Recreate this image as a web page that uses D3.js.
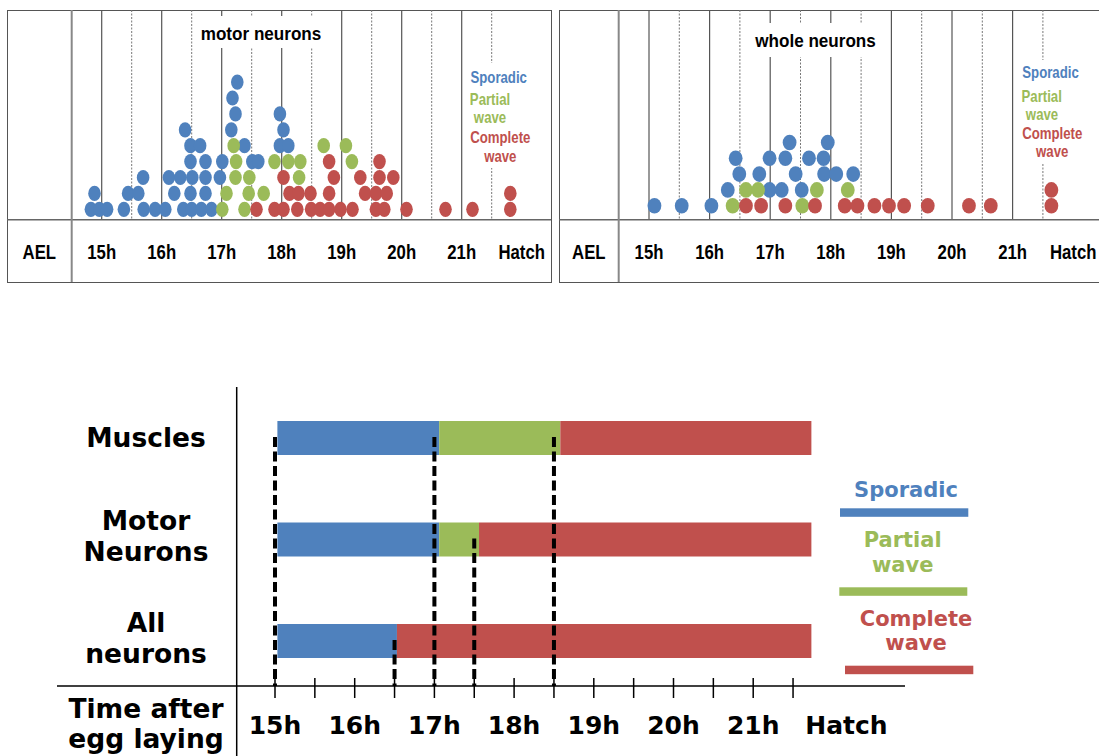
<!DOCTYPE html>
<html>
<head>
<meta charset="utf-8">
<script src="https://cdn.jsdelivr.net/npm/d3@7"></script>
<style>
  body { margin: 0; background: #fff; }
  svg { display: block; }
</style>
</head>
<body>
<div id="chart"></div>
<script>
// phases and colours
const phases = ["Sporadic", "Partial wave", "Complete wave"];
const phaseColors = ["#4F81BD", "#9BBB59", "#C0504D"];
const legendLines = [["Sporadic"], ["Partial", "wave"], ["Complete", "wave"]];

// top panels: one dot per embryo, [hours AEL, stack row]
const motorSporadic = [
  [14.82,0],[14.96,0],[15.09,0],[15.37,0],[15.70,0],[15.89,0],[16.06,0],[16.36,0],[16.50,0],[16.66,0],[16.83,0],
  [14.88,1],[15.44,1],[15.61,1],[16.21,1],[16.48,1],[16.73,1],
  [15.69,2],[16.12,2],[16.31,2],[16.51,2],[16.73,2],[16.97,2],
  [16.48,3],[16.73,3],[17.01,3],[17.51,3],[17.61,3],
  [16.48,4],[16.64,4],[17.38,4],[17.97,4],[18.11,4],
  [16.39,5],[17.16,5],[18.03,5],
  [17.23,6],[17.97,6],
  [17.18,7],
  [17.26,8]
];
const motorPartial = [
  [17.01,0],[17.38,0],
  [17.08,1],[17.45,1],[17.70,1],
  [17.23,2],[17.46,2],[18.29,2],
  [17.24,3],[17.88,3],[18.11,3],[18.31,3],[19.17,3],
  [17.20,4],[18.70,4],[19.07,4]
];
const motorComplete = [
  [17.58,0],[17.88,0],[18.03,0],[18.26,0],[18.49,0],[18.64,0],[18.79,0],[18.98,0],[19.18,0],
  [19.57,0],[19.71,0],[20.08,0],[20.73,0],[21.18,0],[21.81,0],
  [18.13,1],[18.28,1],[18.48,1],[18.79,1],[19.39,1],[19.57,1],[19.75,1],[21.81,1],
  [18.03,2],[18.87,2],[19.31,2],[19.63,2],[19.86,2],
  [18.79,3],[19.63,3]
];
const wholeSporadic = [
  [15.09,0],[15.54,0],[16.03,0],
  [16.30,1],[16.99,1],[17.19,1],[17.52,1],
  [16.49,2],[16.82,2],[17.42,2],[17.89,2],[18.09,2],[18.37,2],
  [16.43,3],[16.99,3],[17.25,3],[17.64,3],[17.88,3],
  [17.32,4],[17.95,4]
];
const wholePartial = [
  [16.38,0],[17.53,0],
  [16.60,1],[16.80,1],[17.77,1],[18.28,1]
];
const wholeComplete = [
  [16.60,0],[16.85,0],[17.25,0],[17.74,0],[18.23,0],[18.44,0],[18.72,0],[18.96,0],[19.21,0],
  [19.60,0],[20.28,0],[20.64,0],[21.64,0],
  [21.64,1]
];
const topHours = [15, 16, 17, 18, 19, 20, 21, 22];
const topHourLabels = ["15h", "16h", "17h", "18h", "19h", "20h", "21h", "Hatch"];

// bottom summary chart
const barRows = ["Muscles", "Motor Neurons", "All neurons"];
const barRowLines = [["Muscles"], ["Motor", "Neurons"], ["All", "neurons"]];
const sporadicStart = [15.03, 15.03, 15.03];
const partialStart = [17.06, 17.06, 16.53];
const completeStart = [18.58, 17.56, 16.53];
const hatchEnd = [21.73, 21.73, 21.73];
const transitionTimes = [15.0, 17.0, 18.5, 17.5, 16.5];
const transitionRows = ["Muscles", "Muscles", "Muscles", "Motor Neurons", "All neurons"];
const bottomTicks = d3.range(15, 21.51, 0.5);
const bottomLabelPos = [15, 16, 17, 18, 19, 20, 21, 22.17];
const bottomLabels = ["15h", "16h", "17h", "18h", "19h", "20h", "21h", "Hatch"];

const svg = d3.select("#chart").append("svg")
  .attr("width", 1099)
  .attr("height", 756);

const topFont = "'Liberation Sans', Arial, sans-serif";
const botFont = "'DejaVu Sans', Verdana, sans-serif";

// squeezed text helper (the top panels are slightly compressed horizontally)
function squeezed(g, txt, cx, by, size, sx, color) {
  g.append("text")
    .attr("transform", `translate(${cx},${by}) scale(${sx},1)`)
    .attr("text-anchor", "middle")
    .attr("font-family", topFont)
    .attr("font-weight", "bold")
    .attr("font-size", size)
    .attr("fill", color)
    .text(txt);
}

function dotPanel(p) {
  const g = svg.append("g");
  const x = d3.scaleLinear().domain([15, 21]).range(p.xRange);
  const y = d3.scaleLinear().domain([0, 1]).range([p.row0, p.row0 - p.rowStep]);

  // frame
  g.append("rect")
    .attr("x", p.left + 0.5).attr("y", p.top + 0.5)
    .attr("width", p.right - p.left).attr("height", p.bottom - p.top)
    .attr("fill", "#fff").attr("stroke", "#555");

  // half hour grid
  g.selectAll(".grid")
    .data(d3.range(15, 21.51, 0.5))
    .join("line")
    .attr("x1", d => x(d)).attr("x2", d => x(d))
    .attr("y1", p.top).attr("y2", p.base)
    .attr("stroke", d => d % 1 === 0 ? "#555" : "#777")
    .attr("stroke-width", d => d % 1 === 0 ? 1.2 : 1)
    .attr("stroke-dasharray", d => d % 1 === 0 ? null : "2,1.5");

  // title
  g.append("rect")
    .attr("x", p.titleBox[0]).attr("y", p.titleBox[1])
    .attr("width", p.titleBox[2]).attr("height", p.titleBox[3])
    .attr("fill", "#fff");
  squeezed(g, p.title, p.titlePos[0], p.titlePos[1], 19, 0.9, "#000");

  // legend
  g.append("rect")
    .attr("x", p.legendBox[0]).attr("y", p.legendBox[1])
    .attr("width", p.legendBox[2]).attr("height", p.legendBox[3])
    .attr("fill", "#fff");
  let k = 0;
  legendLines.forEach((lines, i) => {
    lines.forEach(t => {
      squeezed(g, t, p.legendX[k], p.legendY[k], 16.5, 0.8, phaseColors[i]);
      k++;
    });
  });

  // dots
  p.series.forEach((s, i) => {
    g.selectAll(null)
      .data(s)
      .join("ellipse")
      .attr("cx", d => x(d[0]))
      .attr("cy", d => y(d[1]))
      .attr("rx", p.rx).attr("ry", p.ry)
      .attr("fill", phaseColors[i]);
  });

  // baseline and AEL separator
  g.append("line")
    .attr("x1", p.left).attr("x2", p.right)
    .attr("y1", p.base).attr("y2", p.base)
    .attr("stroke", "#666").attr("stroke-width", 1.5);
  g.append("line")
    .attr("x1", x(14.5)).attr("x2", x(14.5))
    .attr("y1", p.top).attr("y2", p.bottom)
    .attr("stroke", "#888").attr("stroke-width", 2);

  // axis labels
  squeezed(g, "AEL", (p.left + x(14.5)) / 2, 259, 19.5, 0.86, "#000");
  topHours.forEach((h, i) => squeezed(g, topHourLabels[i], x(h), 259, 19.5, 0.86, "#000"));
}

dotPanel({
  left: 7, right: 551, top: 10, bottom: 282, base: 219.7,
  xRange: [101.7, 461.7], row0: 209.3, rowStep: 15.9, rx: 6.3, ry: 7.6,
  title: "motor neurons", titleBox: [195, 16, 133, 32], titlePos: [261, 40],
  legendBox: [465, 63, 72, 105],
  legendX: [498.7, 490, 490, 500.3, 500.3],
  legendY: [83, 105, 123.3, 142.5, 161.5],
  series: [motorSporadic, motorPartial, motorComplete]
});

dotPanel({
  left: 559, right: 1110, top: 10, bottom: 282, base: 219.7,
  xRange: [649, 1012.6], row0: 205.7, rowStep: 15.8, rx: 6.9, ry: 7.8,
  title: "whole neurons", titleBox: [746, 23, 139, 34], titlePos: [815.5, 47],
  legendBox: [1015, 60, 74, 103],
  legendX: [1050.5, 1041.7, 1042, 1052.2, 1052.2],
  legendY: [78.3, 101.7, 120, 139.3, 157.3],
  series: [wholeSporadic, wholePartial, wholeComplete]
});

// ---- bottom summary chart ----
const xB = d3.scaleLinear().domain([15, 22]).range([275, 832.9]);
const yB = d3.scalePoint().domain(barRows).range([438, 641]);
const barH = 34;
const bottom = svg.append("g");

// segments per row
const segs = [];
barRows.forEach((r, i) => {
  const bounds = [sporadicStart[i], partialStart[i], completeStart[i], hatchEnd[i]];
  for (let k = 0; k < 3; k++) {
    if (bounds[k + 1] > bounds[k]) segs.push({ row: r, x0: bounds[k], x1: bounds[k + 1], phase: k });
  }
});
bottom.selectAll(".seg")
  .data(segs)
  .join("rect")
  .attr("x", d => xB(d.x0))
  .attr("width", d => xB(d.x1) - xB(d.x0))
  .attr("y", d => yB(d.row) - barH / 2)
  .attr("height", barH)
  .attr("fill", d => phaseColors[d.phase]);

// transition markers
bottom.selectAll(".trans")
  .data(transitionTimes)
  .join("line")
  .attr("x1", d => xB(d)).attr("x2", d => xB(d))
  .attr("y1", (d, i) => yB(transitionRows[i]) - 1)
  .attr("y2", 686)
  .attr("stroke", "#000")
  .attr("stroke-width", 4)
  .attr("stroke-dasharray", "10,4.5");

// axes
bottom.append("line")
  .attr("x1", 236.7).attr("x2", 236.7).attr("y1", 387).attr("y2", 756)
  .attr("stroke", "#000").attr("stroke-width", 1.5);
bottom.append("line")
  .attr("x1", 57).attr("x2", 905).attr("y1", 686).attr("y2", 686)
  .attr("stroke", "#000").attr("stroke-width", 1.5);
bottom.selectAll(".tick")
  .data(bottomTicks)
  .join("line")
  .attr("x1", d => xB(d)).attr("x2", d => xB(d))
  .attr("y1", 678).attr("y2", 698)
  .attr("stroke", "#000").attr("stroke-width", 1.5);
bottom.selectAll(".tlab")
  .data(bottomLabels)
  .join("text")
  .attr("x", (d, i) => xB(bottomLabelPos[i]))
  .attr("y", 734)
  .attr("text-anchor", "middle")
  .attr("font-family", botFont).attr("font-weight", "bold").attr("font-size", 25)
  .text(d => d);

// row labels
barRows.forEach((r, i) => {
  const lines = barRowLines[i];
  const offs = lines.length === 1 ? [9] : [-9.5, 21.5];
  lines.forEach((t, j) => {
    bottom.append("text")
      .attr("x", 146).attr("y", yB(r) + offs[j])
      .attr("text-anchor", "middle")
      .attr("font-family", botFont).attr("font-weight", "bold").attr("font-size", 26.5)
      .text(t);
  });
});
[["Time after", 718.3], ["egg laying", 748]].forEach(([t, by]) => {
  bottom.append("text")
    .attr("x", 146).attr("y", by)
    .attr("text-anchor", "middle")
    .attr("font-family", botFont).attr("font-weight", "bold").attr("font-size", 26.5)
    .text(t);
});

// legend
const legX = [906, 902.7, 916];
const legBase = [[496.7], [546.7, 571.7], [626, 650]];
const legBar = [[840, 968.3, 508.3], [839.3, 967.3, 587.3], [845, 973.3, 665.7]];
phases.forEach((ph, i) => {
  legendLines[i].forEach((t, j) => {
    bottom.append("text")
      .attr("x", legX[i]).attr("y", legBase[i][j])
      .attr("text-anchor", "middle")
      .attr("font-family", botFont).attr("font-weight", "bold").attr("font-size", 21)
      .attr("fill", phaseColors[i])
      .text(t);
  });
  bottom.append("rect")
    .attr("x", legBar[i][0]).attr("y", legBar[i][2])
    .attr("width", legBar[i][1] - legBar[i][0]).attr("height", 8.5)
    .attr("fill", phaseColors[i]);
});
</script>
</body>
</html>
